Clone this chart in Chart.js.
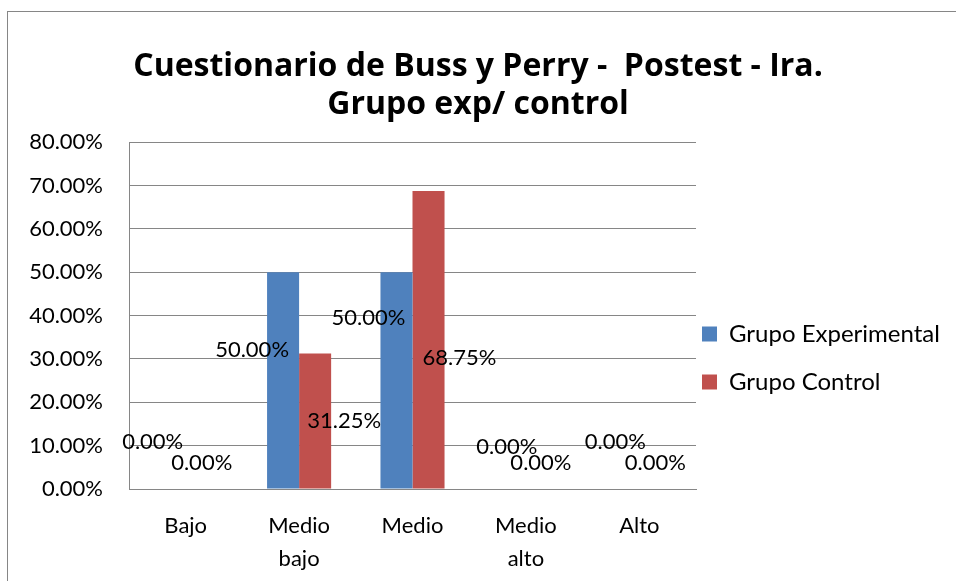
<!DOCTYPE html>
<html lang="es">
<head>
<meta charset="UTF-8">
<title>Cuestionario de Buss y Perry - Postest - Ira</title>
<script src="https://cdn.jsdelivr.net/npm/chart.js"></script>
<style>
  body { margin: 0; overflow: hidden; background: #fff; }
  #frame { position: absolute; left: 7px; top: 11px; width: 2000px; height: 2000px;
           border-left: 1px solid #868686; border-top: 1px solid #868686; }
  #chart { position: absolute; left: 0; top: 0; }
</style>
</head>
<body>
<div id="frame"></div>
<canvas id="chart" width="956" height="581"></canvas>
<script>
const categories = [['Bajo'], ['Medio', 'bajo'], ['Medio'], ['Medio', 'alto'], ['Alto']];
const seriesNames = ['Grupo Experimental', 'Grupo Control'];
const experimental = [0, 50, 50, 0, 0];
const control = [0, 31.25, 68.75, 0, 0];
const yTicks = [0, 10, 20, 30, 40, 50, 60, 70, 80];

// where Excel dropped each value label, relative to the top centre of its bar
const labelNudge = [
  [[-17, -47], [-31, 78], [-28, 46], [-3, -42], [-8, -47]],
  [[0, -26], [29, 67], [31, 167], [-1, -26], [0, -26]]
];

Chart.defaults.font.family = 'Lato, "Open Sans", sans-serif';
Chart.defaults.color = '#000';

const valueLabels = {
  id: 'valueLabels',
  afterDatasetsDraw(chart) {
    const ctx = chart.ctx;
    ctx.save();
    ctx.font = '22px Lato, "Open Sans", sans-serif';
    ctx.fillStyle = '#000';
    ctx.textAlign = 'center';
    ctx.textBaseline = 'middle';
    chart.data.datasets.forEach((ds, i) => {
      chart.getDatasetMeta(i).data.forEach((bar, j) => {
        const n = labelNudge[i][j];
        ctx.fillText(ds.data[j].toFixed(2) + '%', bar.x + n[0], bar.y + n[1]);
      });
    });
    ctx.restore();
  }
};

// excel puts the legend a bit lower and tighter to the plot than chart.js does
const legendSpot = {
  id: 'legendSpot',
  afterLayout(chart) {
    const lg = chart.legend;
    lg.left = chart.chartArea.right - 18;
    lg.right = chart.width;
    lg.top = 298;
  }
};

new Chart(document.getElementById('chart'), {
  type: 'bar',
  data: {
    labels: categories,
    datasets: [
      { label: seriesNames[0], data: experimental, backgroundColor: '#4F81BD' },
      { label: seriesNames[1], data: control, backgroundColor: '#C0504D' }
    ]
  },
  options: {
    responsive: false,
    animation: false,
    layout: { padding: 0 },
    datasets: { bar: { categoryPercentage: 0.565, barPercentage: 1 } },
    plugins: {
      title: {
        display: true,
        text: ['Cuestionario de Buss y Perry -  Postest - Ira.', 'Grupo exp/ control'],
        font: { family: '"Open Sans", Lato, sans-serif', size: 32, weight: 'bold', lineHeight: 1.19 },
        color: '#000',
        padding: { top: 48, bottom: 18 }
      },
      legend: {
        position: 'right',
        align: 'start',
        maxWidth: 260,
        labels: { boxWidth: 15, boxHeight: 15, padding: 24, font: { size: 24 } }
      },
      tooltip: { enabled: false }
    },
    scales: {
      x: {
        grid: { display: false, drawTicks: false },
        border: { color: '#868686' },
        ticks: { padding: 20, font: { size: 22, lineHeight: 1.5 }, maxRotation: 0 },
        afterFit(scale) { scale.height = 92; }
      },
      y: {
        min: yTicks[0],
        max: yTicks[yTicks.length - 1],
        afterBuildTicks(scale) { scale.ticks = yTicks.map(v => ({ value: v })); },
        grid: { color: '#868686', drawTicks: false },
        border: { color: '#868686' },
        ticks: { padding: 26, font: { size: 22 }, callback: v => v.toFixed(2) + '%' },
        afterFit(scale) { scale.width = 129; }
      }
    }
  },
  plugins: [valueLabels, legendSpot]
});
</script>
</body>
</html>
